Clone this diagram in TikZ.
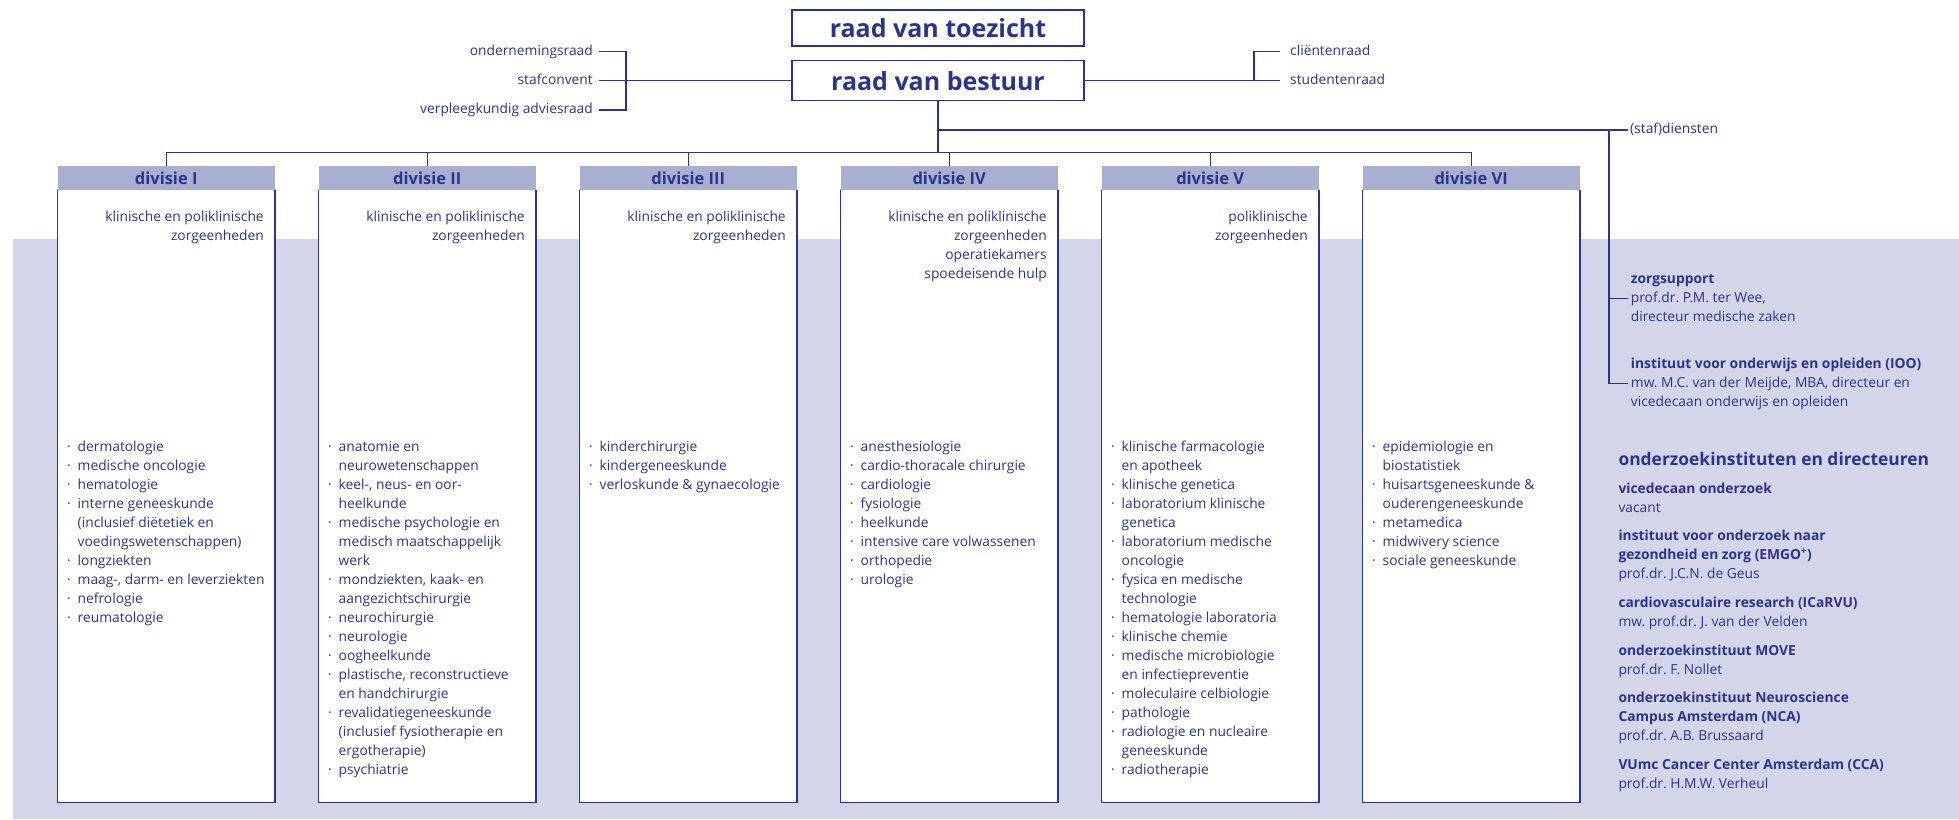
\documentclass[tikz,border=0pt]{standalone}
\usepackage{fontspec}
\setmainfont{Open Sans}
\usetikzlibrary{positioning,calc}

\definecolor{vunavy}{RGB}{43,52,140}
\definecolor{vuhead}{RGB}{169,175,209}
\definecolor{vuband}{RGB}{211,214,232}

\newcommand\txtsize{\fontsize{13.8}{19}\selectfont}
\newcommand\itm{\makebox[10.5pt][l]{\strut·}}
\newcommand\cnt{\hspace*{10.5pt}\strut}

\tikzset{
 lbl/.style={font=\txtsize, text=vunavy, inner sep=0pt},
 tag/.style={lbl, text height=10pt, text depth=3pt},
 topbox/.style={draw=vunavy, line width=1.3pt, minimum width=292pt, inner sep=0pt, text=vunavy, font=\bfseries\fontsize{25}{30}\selectfont},
 divhead/.style={fill=vuhead, minimum width=217pt, minimum height=24pt, inner sep=0pt, text=vunavy, font=\bfseries\fontsize{16.5}{20}\selectfont},
 divbody/.style={fill=white, minimum width=217pt, minimum height=612pt, inner sep=0pt},
 unitlist/.style={lbl, align=left},
 zorgtxt/.style={lbl, align=right},
 conn/.style={draw=vunavy, line width=1.3pt},
 frame/.style={draw=vunavy, line width=1.2pt}
}

\begin{document}
\frenchspacing
\begin{tikzpicture}[x=1pt,y=-1pt]
\useasboundingbox (0,0) rectangle (1959,819);
\fill[vuband] (12.5,239) rectangle (1959,819);

% board
\node[topbox, minimum height=36pt] (rvt) at (938,28) {raad van toezicht};
\node[topbox, minimum height=40pt] (rvb) at (938,80.7) {raad van bestuur};

% councils
\node[tag, anchor=east] (ond) at (593,51.7) {ondernemingsraad};
\node[tag, anchor=east] (staf) at (593,80.7) {stafconvent};
\node[tag, anchor=east] (verp) at (593,110) {verpleegkundig adviesraad};
\node[tag, anchor=west] (cli) at (1290,51.7) {cliëntenraad};
\node[tag, anchor=west] (stud) at (1290,80.7) {studentenraad};
\node[tag, anchor=west] (dienst) at (1630,130) {(staf)diensten};

% divisions
\node[divhead, anchor=north west] (d1) at (57.5,166) {divisie I};
\node[divhead, right=43.6pt of d1] (d2) {divisie II};
\node[divhead, right=43.6pt of d2] (d3) {divisie III};
\node[divhead, right=43.6pt of d3] (d4) {divisie IV};
\node[divhead, right=43.6pt of d4] (d5) {divisie V};
\node[divhead, right=43.6pt of d5] (d6) {divisie VI};
\node[divbody, below=0pt of d1] (b1) {};
\node[divbody, below=0pt of d2] (b2) {};
\node[divbody, below=0pt of d3] (b3) {};
\node[divbody, below=0pt of d4] (b4) {};
\node[divbody, below=0pt of d5] (b5) {};
\node[divbody, below=0pt of d6] (b6) {};
\foreach \b in {b1,b2,b3,b4,b5,b6}
  \draw[frame] (\b.north west) |- (\b.south east) -- (\b.north east);

% care units
\node[zorgtxt, below left=17.1pt and 11pt of b1.north east] (z1) {\strut klinische en poliklinische\\zorgeenheden};
\node[zorgtxt, below left=17.1pt and 11pt of b2.north east] (z2) {\strut klinische en poliklinische\\zorgeenheden};
\node[zorgtxt, below left=17.1pt and 11pt of b3.north east] (z3) {\strut klinische en poliklinische\\zorgeenheden};
\node[zorgtxt, below left=17.1pt and 11pt of b4.north east] (z4) {\strut klinische en poliklinische\\zorgeenheden\\operatiekamers\\spoedeisende hulp};
\node[zorgtxt, below left=17.1pt and 11pt of b5.north east] (z5) {\strut poliklinische\\zorgeenheden};

% departments
\node[unitlist, below right=247.7pt and 9.5pt of b1.north west] (l1) {\itm dermatologie\\ \itm medische oncologie\\ \itm hematologie\\ \itm interne geneeskunde\\ \cnt (inclusief diëtetiek en\\ \cnt voedingswetenschappen)\\ \itm longziekten\\ \itm maag-, darm- en leverziekten\\ \itm nefrologie\\ \itm reumatologie};
\node[unitlist, below right=247.7pt and 9.5pt of b2.north west] (l2) {\itm anatomie en\\ \cnt neurowetenschappen\\ \itm keel-, neus- en oor-\\ \cnt heelkunde\\ \itm medische psychologie en\\ \cnt medisch maatschappelijk\\ \cnt werk\\ \itm mondziekten, kaak- en\\ \cnt aangezichtschirurgie\\ \itm neurochirurgie\\ \itm neurologie\\ \itm oogheelkunde\\ \itm plastische, reconstructieve\\ \cnt en handchirurgie\\ \itm revalidatiegeneeskunde\\ \cnt (inclusief fysiotherapie en\\ \cnt ergotherapie)\\ \itm psychiatrie};
\node[unitlist, below right=247.7pt and 9.5pt of b3.north west] (l3) {\itm kinderchirurgie\\ \itm kindergeneeskunde\\ \itm verloskunde \& gynaecologie};
\node[unitlist, below right=247.7pt and 9.5pt of b4.north west] (l4) {\itm anesthesiologie\\ \itm cardio-thoracale chirurgie\\ \itm cardiologie\\ \itm fysiologie\\ \itm heelkunde\\ \itm intensive care volwassenen\\ \itm orthopedie\\ \itm urologie};
\node[unitlist, below right=247.7pt and 9.5pt of b5.north west] (l5) {\itm klinische farmacologie\\ \cnt en apotheek\\ \itm klinische genetica\\ \itm laboratorium klinische\\ \cnt genetica\\ \itm laboratorium medische\\ \cnt oncologie\\ \itm fysica en medische\\ \cnt technologie\\ \itm hematologie laboratoria\\ \itm klinische chemie\\ \itm medische microbiologie\\ \cnt en infectiepreventie\\ \itm moleculaire celbiologie\\ \itm pathologie\\ \itm radiologie en nucleaire\\ \cnt geneeskunde\\ \itm radiotherapie};
\node[unitlist, below right=247.7pt and 9.5pt of b6.north west] (l6) {\itm epidemiologie en\\ \cnt biostatistiek\\ \itm huisartsgeneeskunde \&\\ \cnt ouderengeneeskunde\\ \itm metamedica\\ \itm midwivery science\\ \itm sociale geneeskunde};

% staff services
\node[unitlist, anchor=north west] (zorg) at (1630.7,269.9) {\strut\textbf{zorgsupport}\\prof.dr. P.M. ter Wee,\\directeur medische zaken};
\node[unitlist, anchor=north west] (ioo) at (1630.7,354.7) {\strut\textbf{instituut voor onderwijs en opleiden (IOO)}\\mw. M.C. van der Meijde, MBA, directeur en\\vicedecaan onderwijs en opleiden};

% research
\node[lbl, anchor=west, font=\bfseries\fontsize{17.4}{21}\selectfont] (onz) at (1618.3,459) {onderzoekinstituten en directeuren};
\node[unitlist, anchor=north west] (inst) at (1618.3,479.7) {\strut\textbf{vicedecaan onderzoek}\\vacant\\[9.6pt]
 \textbf{instituut voor onderzoek naar}\\\textbf{gezondheid en zorg (EMGO\textsuperscript{+})}\\prof.dr. J.C.N. de Geus\\[9.6pt]
 \textbf{cardiovasculaire research (ICaRVU)}\\mw. prof.dr. J. van der Velden\\[9.6pt]
 \textbf{onderzoekinstituut MOVE}\\prof.dr. F. Nollet\\[9.6pt]
 \textbf{onderzoekinstituut Neuroscience}\\\textbf{Campus Amsterdam (NCA)}\\prof.dr. A.B. Brussaard\\[9.6pt]
 \textbf{VUmc Cancer Center Amsterdam (CCA)}\\prof.dr. H.M.W. Verheul};

% edges
\draw[conn] ([xshift=6pt]ond.east) -| ([xshift=33pt]verp.east) -- ([xshift=6pt]verp.east);
\draw[conn] ([xshift=6pt]staf.east) -- (rvb.west);
\draw[conn] (rvb.east) -- ([xshift=-10pt]stud.west);
\draw[conn] ([xshift=-36pt]stud.west) |- ([xshift=-10pt]cli.west);

\coordinate (bar) at ($(rvb.south)+(0,51)$);
\coordinate (sd) at ([xshift=-21pt]dienst.west);
\coordinate (zt) at ([xshift=-3pt,yshift=-28.6pt]zorg.north west);
\draw[conn] (rvb.south) -- (bar);
\draw[conn] (rvb.south |- dienst.west) -- ([xshift=-2pt]dienst.west);
\draw[conn] (sd) |- ([xshift=-3pt,yshift=-28.6pt]ioo.north west);
\draw[conn] (sd |- zt) -- (zt);

\draw[conn] (d1.north) -- (d1.north |- bar) -- (d6.north |- bar) -- (d6.north);
\foreach \d in {d2,d3,d4,d5}
  \draw[conn] (\d.north) -- (\d.north |- bar);
\end{tikzpicture}
\end{document}
